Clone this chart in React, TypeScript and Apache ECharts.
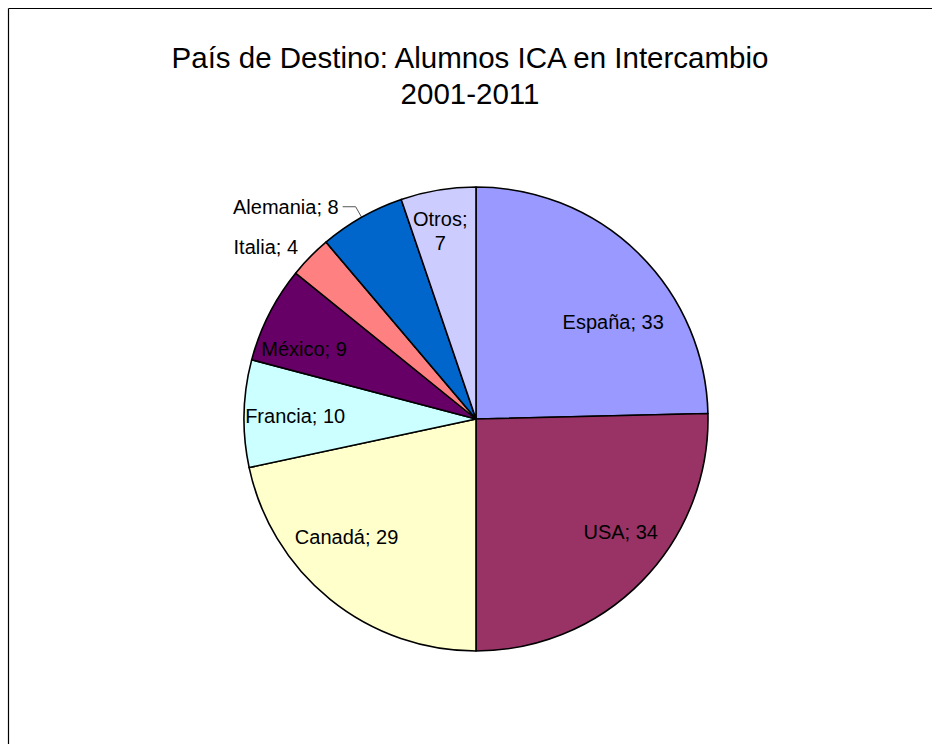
import React, { useEffect, useRef } from 'react';
import * as echarts from 'echarts';

const categories = ['España', 'USA', 'Canadá', 'Francia', 'México', 'Italia', 'Alemania', 'Otros'];
const values = [33, 34, 29, 10, 9, 4, 8, 7];
const colors = ['#9999FF', '#993366', '#FFFFCC', '#CCFFFF', '#660066', '#FF8080', '#0066CC', '#CCCCFF'];
const outsideLabels = ['Italia', 'Alemania'];
const leaderLabels = ['Alemania'];
const wrappedLabels = ['Otros'];
const titleText = 'País de Destino: Alumnos ICA en Intercambio\n2001-2011';

const FONT = 'Arial, "Liberation Sans", sans-serif';
const CX = 476;
const CY = 419;
const R = 232;
// radial push [kx, ky] of inside labels (Excel places them further out than ECharts' r/2)
const LABEL_PUSH: Record<string, [number, number]> = {
  'España': [1.65, 1.14],
  USA: [1.7, 1.36],
  'Canadá': [1.73, 1.28],
  Francia: [1.52, 1.0],
  'México': [1.62, 1.31],
  Otros: [1.84, 1.6],
};

export default function App() {
  const ref = useRef<HTMLDivElement>(null);
  useEffect(() => {
    document.body.style.margin = '0';
    if (!ref.current) return;
    const chart = echarts.init(ref.current, undefined, { renderer: 'svg' });
    const data = categories.map((name, i) => {
      const item: any = { name, value: values[i], itemStyle: { color: colors[i] } };
      if (outsideLabels.includes(name)) {
        const lead = leaderLabels.includes(name);
        item.label = { position: 'outside', distanceToLabelLine: lead ? 4 : 2 };
        item.labelLine = {
          show: lead,
          length: lead ? 12 : 14,
          length2: lead ? 13 : 0,
          lineStyle: { color: '#555', width: 1 },
        };
      }
      if (wrappedLabels.includes(name)) {
        item.label = { formatter: '{b};\n{c}', lineHeight: 24 };
      }
      return item;
    });
    chart.setOption({
      animation: false,
      backgroundColor: '#ffffff',
      title: {
        text: titleText,
        left: 465,
        textAlign: 'center',
        top: 34,
        textStyle: {
          fontFamily: FONT,
          fontSize: 29.5,
          fontWeight: 'normal',
          color: '#000',
          lineHeight: 36,
        },
      },
      graphic: [
        { type: 'line', shape: { x1: 8.5, y1: 8.5, x2: 932, y2: 8.5 }, style: { stroke: '#000', lineWidth: 1.2 } },
        { type: 'line', shape: { x1: 8.5, y1: 8.5, x2: 8.5, y2: 744 }, style: { stroke: '#000', lineWidth: 1.2 } },
      ],
      series: [
        {
          type: 'pie',
          center: [CX, CY],
          radius: R,
          startAngle: 90,
          clockwise: true,
          avoidLabelOverlap: false,
          itemStyle: { borderColor: '#000', borderWidth: 1.6 },
          label: {
            show: true,
            position: 'inside',
            formatter: '{b}; {c}',
            fontFamily: FONT,
            fontSize: 20,
            color: '#000',
          },
          labelLine: { show: false },
          labelLayout: (params: any) => {
            const name = categories[params.dataIndex];
            if (outsideLabels.includes(name)) return {};
            const [kx, ky] = LABEL_PUSH[name] || [1.5, 1.5];
            const r = params.labelRect;
            const lx = r.x + r.width / 2;
            const ly = r.y + r.height / 2;
            return {
              x: CX + (lx - CX) * kx,
              y: CY + (ly - CY) * ky,
              align: 'center',
              verticalAlign: 'middle',
            };
          },
          emphasis: { disabled: true },
          data,
        },
      ],
    });
    return () => chart.dispose();
  }, []);
  return <div ref={ref} style={{ width: 932, height: 744 }} />;
}
